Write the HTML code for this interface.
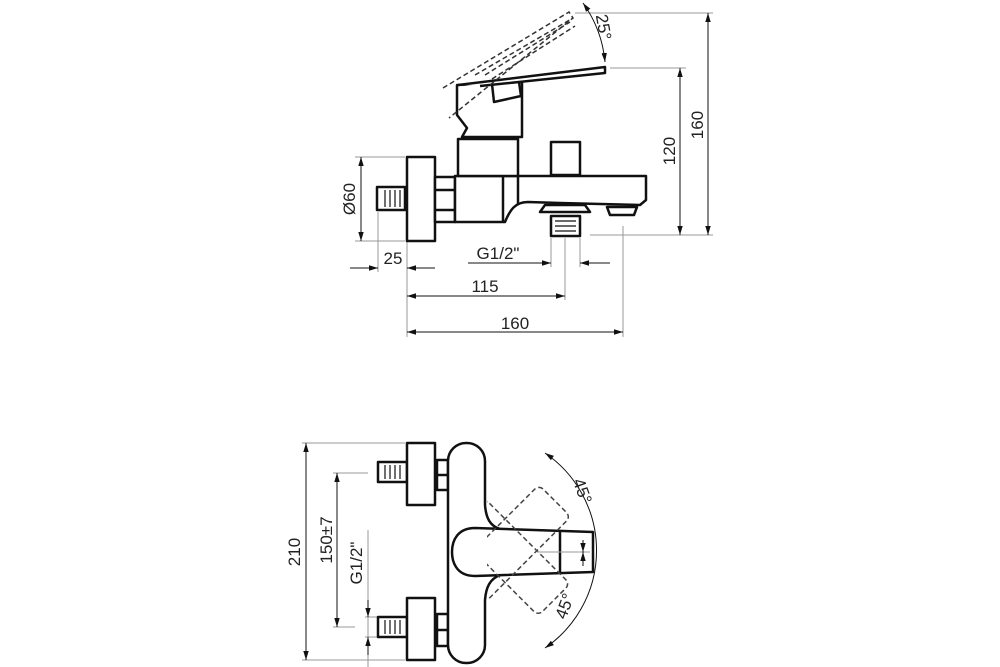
<!DOCTYPE html>
<html><head><meta charset="utf-8"><style>
html,body{margin:0;padding:0;background:#fff}
svg{display:block}
text{font-family:"Liberation Sans",sans-serif;font-size:17px;fill:#222}
</style></head><body>
<svg width="1000" height="667" viewBox="0 0 1000 667" xmlns="http://www.w3.org/2000/svg">
<defs>
<marker id="a" viewBox="0 0 10 10" refX="10" refY="5" markerWidth="9" markerHeight="9" orient="auto-start-reverse" markerUnits="userSpaceOnUse"><path d="M0,2 L10,5 L0,8z" fill="#111"/></marker>
<clipPath id="c"><rect x="487" y="0" width="300" height="667"/></clipPath>
</defs>
<g fill="none" stroke="#999" stroke-width="1">
<line x1="575" y1="13" x2="713" y2="13"/><line x1="590" y1="235" x2="713" y2="235"/>
<line x1="610" y1="68" x2="686" y2="68"/>
<line x1="355" y1="157" x2="405" y2="157"/><line x1="355" y1="241" x2="405" y2="241"/>
<line x1="378" y1="212" x2="378" y2="272"/><line x1="407" y1="242" x2="407" y2="337"/>
<line x1="551" y1="238" x2="551" y2="267"/><line x1="565" y1="238" x2="565" y2="300"/><line x1="580" y1="238" x2="580" y2="267"/>
<line x1="623" y1="226" x2="623" y2="337"/>
<line x1="302" y1="443" x2="405" y2="443"/><line x1="302" y1="660" x2="405" y2="660"/>
<line x1="333" y1="473" x2="368" y2="473"/><line x1="333" y1="627" x2="355" y2="627"/>
<line x1="368" y1="530" x2="368" y2="667"/><line x1="365" y1="617" x2="378" y2="617"/><line x1="365" y1="637" x2="378" y2="637"/>
</g>
<g fill="none" stroke="#111" stroke-width="1">
<line x1="708" y1="13" x2="708" y2="235" marker-start="url(#a)" marker-end="url(#a)"/>
<line x1="680" y1="68" x2="680" y2="235" marker-start="url(#a)" marker-end="url(#a)"/>
<line x1="361" y1="157" x2="361" y2="241" marker-start="url(#a)" marker-end="url(#a)"/>
<line x1="350" y1="268" x2="378" y2="268" marker-end="url(#a)"/><line x1="435" y1="268" x2="407" y2="268" marker-end="url(#a)"/>
<line x1="468" y1="263" x2="551" y2="263" marker-end="url(#a)"/><line x1="610" y1="263" x2="580" y2="263" marker-end="url(#a)"/>
<line x1="407" y1="296" x2="565" y2="296" marker-start="url(#a)" marker-end="url(#a)"/>
<line x1="407" y1="332" x2="623" y2="332" marker-start="url(#a)" marker-end="url(#a)"/>
<path d="M583,3 A120,120 0 0 1 605,62" marker-start="url(#a)" marker-end="url(#a)"/>
<line x1="306" y1="443" x2="306" y2="660" marker-start="url(#a)" marker-end="url(#a)"/>
<line x1="337" y1="473" x2="337" y2="627" marker-start="url(#a)" marker-end="url(#a)"/>
<line x1="368" y1="600" x2="368" y2="617" marker-end="url(#a)"/><line x1="368" y1="655" x2="368" y2="637" marker-end="url(#a)"/>
<path d="M545,453 A118,118 0 0 1 545,648" marker-start="url(#a)" marker-end="url(#a)"/>
</g>
<g fill="#fff" stroke="#111" stroke-width="2.5" stroke-linejoin="round">
<rect x="377" y="187" width="28" height="23"/>
<rect x="407" y="157" width="28" height="84"/>
<rect x="435" y="177" width="20" height="45"/><line x1="435" y1="190" x2="455" y2="190"/><line x1="435" y1="210" x2="455" y2="210"/>
<path d="M455,176 L646,176 L646,200 L640,205 L560,203 L528,202 C515,202 510,210 505,222 L455,222 Z"/>
<line x1="503" y1="176" x2="503" y2="222"/><line x1="518" y1="176" x2="518" y2="205"/>
<path d="M607,207 L637,207 L634,215 L610,215 Z"/>
<path d="M540,212 L545,205 L585,205 L590,212 Z"/>
<rect x="551" y="216" width="29" height="20"/>
<rect x="551" y="142" width="29" height="33"/>
<rect x="458" y="139" width="60" height="37"/>
<path d="M462,137 L467,128 L457,115 L457,85 L522,82 L522,137 Z"/>
<path d="M492,84 L519,82 L521,96 L494,102 Z"/>
<path d="M458,85 L605,67 L605,73 L480,86"/>
</g>
<g fill="none" stroke="#333" stroke-width="1.5" stroke-dasharray="5,3">
<path d="M443,88 L569,12 L573,18 L449,118"/>
<path d="M475,75 L573,18"/><path d="M485,75 L570,22"/><path d="M492,79 L575,26"/>
</g>
<g fill="#fff" stroke="#111" stroke-width="2.5" stroke-linejoin="round">
<rect x="378" y="462" width="29" height="20"/>
<rect x="407" y="443" width="28" height="62"/>
<rect x="437" y="460" width="11" height="30"/><line x1="437" y1="475" x2="448" y2="475"/>
<rect x="378" y="617" width="29" height="20"/>
<rect x="407" y="598" width="28" height="62"/>
<rect x="437" y="614" width="11" height="32"/><line x1="437" y1="630" x2="448" y2="630"/>
<rect x="448" y="443" width="37" height="220" rx="18"/>
<path d="M487,505 L487,600 L470,600 L470,505 Z" stroke="none"/>
<path d="M485,505 C486,518 490,526 500,529" fill="none"/>
<path d="M485,600 C486,587 490,579 500,575" fill="none"/>
<path d="M475,528 L593,532 L593,572 L475,576 C455,576 452,560 452,552 C452,540 458,528 475,528 Z"/>
<line x1="560" y1="531" x2="560" y2="573"/>
</g>
<g fill="none" stroke="#444" stroke-width="1.5" stroke-dasharray="5,3" clip-path="url(#c)">
<g transform="rotate(-45 505 550)"><rect x="455" y="528" width="120" height="45" rx="6"/></g>
<g transform="rotate(45 505 550)"><rect x="455" y="528" width="120" height="45" rx="6"/></g>
</g>
<g fill="none" stroke="#111" stroke-width="1">
<line x1="537" y1="552" x2="590" y2="552" stroke="#999"/>
<line x1="583" y1="540" x2="583" y2="552" marker-end="url(#a)"/><line x1="583" y1="566" x2="583" y2="552" marker-end="url(#a)"/>
</g>
<g stroke="#111" stroke-width="1.2">
<line x1="385" y1="190" x2="385" y2="207"/><line x1="390" y1="190" x2="390" y2="207"/><line x1="395" y1="190" x2="395" y2="207"/><line x1="400" y1="190" x2="400" y2="207"/>
<line x1="555" y1="221" x2="576" y2="221"/><line x1="555" y1="226" x2="576" y2="226"/><line x1="555" y1="231" x2="576" y2="231"/>
<line x1="385" y1="465" x2="385" y2="479"/><line x1="390" y1="465" x2="390" y2="479"/><line x1="395" y1="465" x2="395" y2="479"/><line x1="400" y1="465" x2="400" y2="479"/>
<line x1="385" y1="620" x2="385" y2="634"/><line x1="390" y1="620" x2="390" y2="634"/><line x1="395" y1="620" x2="395" y2="634"/><line x1="400" y1="620" x2="400" y2="634"/>
</g>
<text x="393" y="264" text-anchor="middle">25</text>
<text x="498" y="259" text-anchor="middle">G1/2"</text>
<text x="485" y="292" text-anchor="middle">115</text>
<text x="515" y="329" text-anchor="middle">160</text>
<text transform="translate(355,199) rotate(-90)" text-anchor="middle">Ø60</text>
<text transform="translate(675,151) rotate(-90)" text-anchor="middle">120</text>
<text transform="translate(703,125) rotate(-90)" text-anchor="middle">160</text>
<text transform="translate(598,28) rotate(80)" text-anchor="middle">25°</text>
<text transform="translate(300,552) rotate(-90)" text-anchor="middle">210</text>
<text transform="translate(332,540) rotate(-90)" text-anchor="middle">150±7</text>
<text transform="translate(362,563) rotate(-90)" text-anchor="middle">G1/2"</text>
<text transform="translate(577,493) rotate(70)" text-anchor="middle">45°</text>
<text transform="translate(570,608) rotate(-70)" text-anchor="middle">45°</text>
</svg>
</body></html>
